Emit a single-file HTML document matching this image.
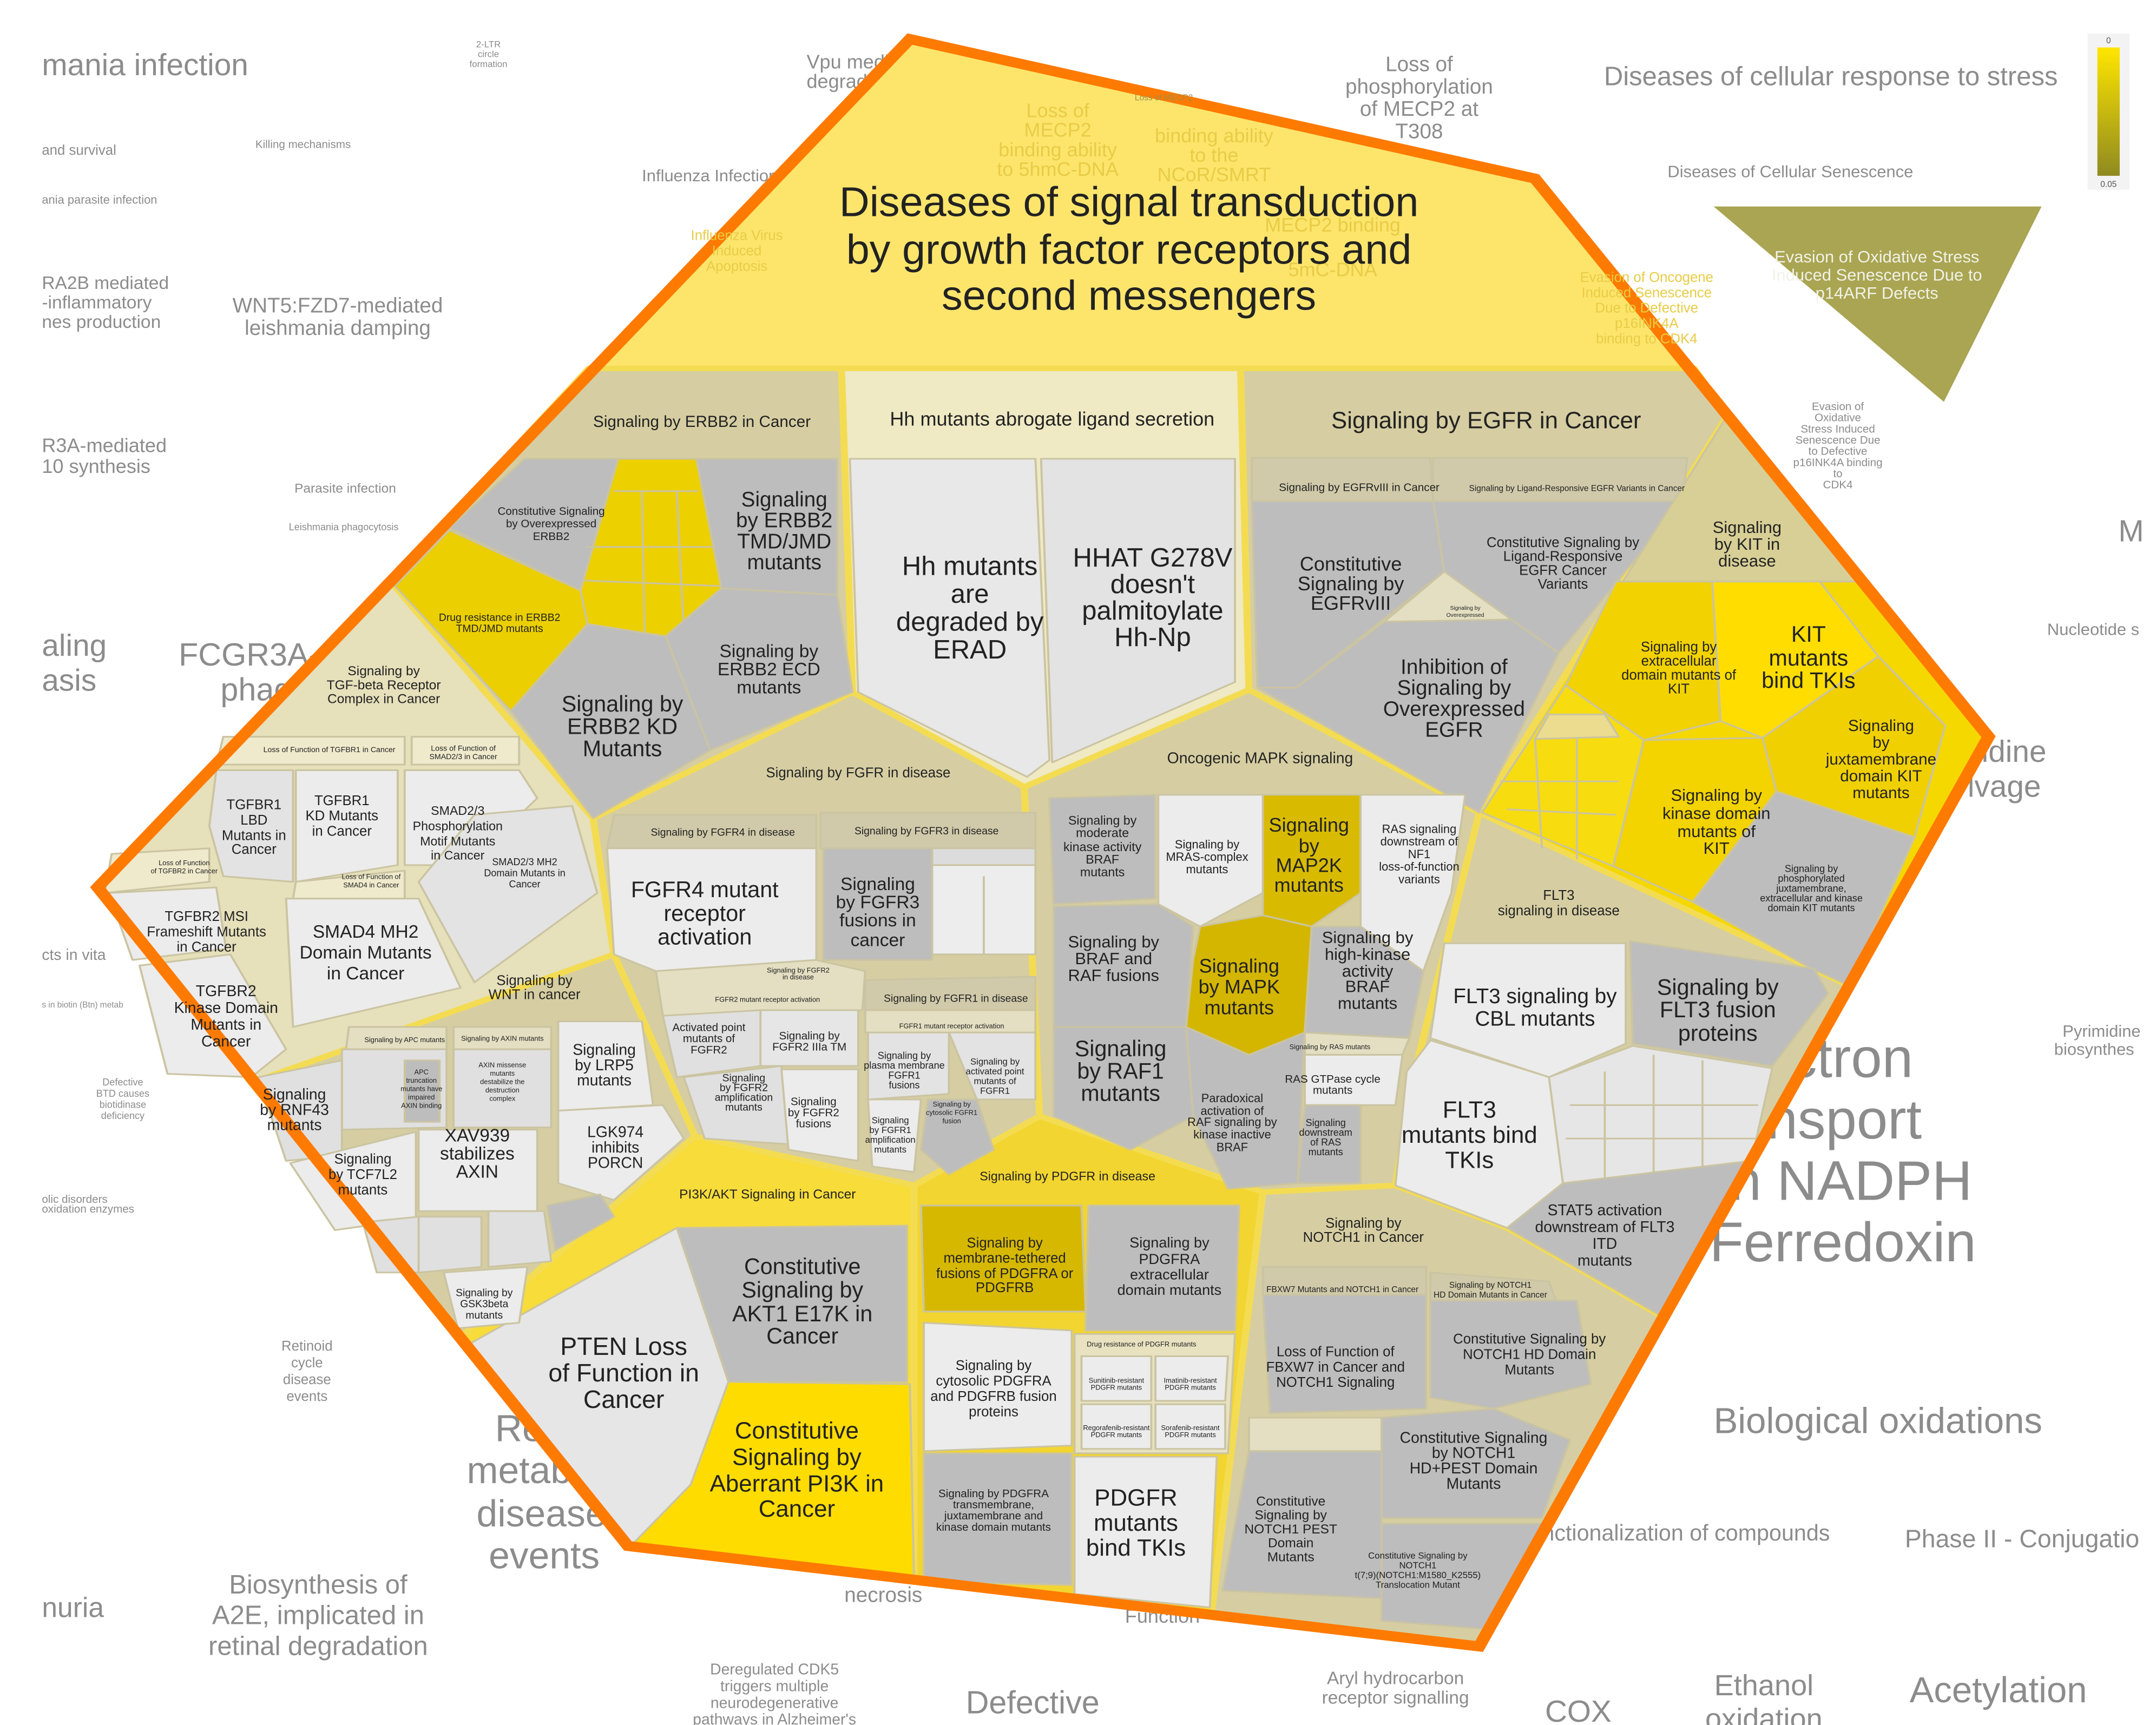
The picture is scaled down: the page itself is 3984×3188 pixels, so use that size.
<!DOCTYPE html>
<html><head><meta charset="utf-8"><style>
html,body{margin:0;padding:0;background:#fff;}
svg{display:block;}
text{font-family:"Liberation Sans",Arial,sans-serif;}
.bg{fill:#8c8c8c;}
.c{fill:#222;text-anchor:middle;}
.f{fill:#e8cc45;text-anchor:middle;}
</style></head><body>
<svg width="3984" height="3188" viewBox="0 0 1545 1236.3" xmlns="http://www.w3.org/2000/svg">
<rect width="1545" height="1237" fill="#fff"/>
<!-- background labels -->
<g class="bg">
<text x="30" y="54" font-size="22">mania infection</text>
<text x="30" y="111" font-size="10">and survival</text>
<text x="183" y="106" font-size="8">Killing mechanisms</text>
<text x="30" y="146" font-size="8.5">ania parasite infection</text>
<text x="30" y="207" font-size="13">RA2B mediated</text>
<text x="30" y="221" font-size="13">-inflammatory</text>
<text x="30" y="235" font-size="13">nes production</text>
<text x="242" y="224" font-size="15" text-anchor="middle">WNT5:FZD7-mediated</text>
<text x="242" y="240" font-size="15" text-anchor="middle">leishmania damping</text>
<text x="30" y="324" font-size="14">R3A-mediated</text>
<text x="30" y="339" font-size="14">10 synthesis</text>
<text x="211" y="353" font-size="9.5">Parasite infection</text>
<text x="207" y="380" font-size="7">Leishmania phagocytosis</text>
<text x="460" y="130" font-size="12">Influenza Infection</text>
<text x="578" y="49" font-size="14">Vpu mediated</text>
<text x="578" y="63" font-size="14">degradation of</text>
<text x="30" y="470" font-size="22">aling</text>
<text x="30" y="495" font-size="22">asis</text>
<text x="128" y="477" font-size="23">FCGR3A-mediated</text>
<text x="158" y="502" font-size="23">phagocytosis</text>
<text x="30" y="688" font-size="11">cts in vita</text>
<text x="30" y="722" font-size="6">s in biotin (Btn) metab</text>
<text x="30" y="862" font-size="8">olic disorders</text>
<text x="30" y="869" font-size="8">oxidation enzymes</text>
<text x="220" y="968" font-size="10" text-anchor="middle">Retinoid</text>
<text x="220" y="980" font-size="10" text-anchor="middle">cycle</text>
<text x="220" y="992" font-size="10" text-anchor="middle">disease</text>
<text x="220" y="1004" font-size="10" text-anchor="middle">events</text>
<text x="372" y="1033" font-size="27" text-anchor="middle">Re</text>
<text x="372" y="1063" font-size="27" text-anchor="middle">metab</text>
<text x="388" y="1094" font-size="27" text-anchor="middle">disease</text>
<text x="390" y="1124" font-size="27" text-anchor="middle">events</text>
<text x="30" y="1159" font-size="20">nuria</text>
<text x="228" y="1142" font-size="19" text-anchor="middle">Biosynthesis of</text>
<text x="228" y="1164" font-size="19" text-anchor="middle">A2E, implicated in</text>
<text x="228" y="1186" font-size="19" text-anchor="middle">retinal degradation</text>
<text x="633" y="1148" font-size="15" text-anchor="middle">necrosis</text>
<text x="833" y="1163" font-size="14" text-anchor="middle">Function</text>
<text x="555" y="1200" font-size="11" text-anchor="middle">Deregulated CDK5</text>
<text x="555" y="1212" font-size="11" text-anchor="middle">triggers multiple</text>
<text x="555" y="1224" font-size="11" text-anchor="middle">neurodegenerative</text>
<text x="555" y="1236" font-size="11" text-anchor="middle">pathways in Alzheimer's</text>
<text x="740" y="1228" font-size="23" text-anchor="middle">Defective</text>
<text x="1000" y="1207" font-size="13" text-anchor="middle">Aryl hydrocarbon</text>
<text x="1000" y="1221" font-size="13" text-anchor="middle">receptor signalling</text>
<text x="1131" y="1234" font-size="22" text-anchor="middle">COX</text>
<text x="1264" y="1215" font-size="21" text-anchor="middle">Ethanol</text>
<text x="1264" y="1239" font-size="21" text-anchor="middle">oxidation</text>
<text x="1432" y="1220" font-size="26" text-anchor="middle">Acetylation</text>
<text x="1365" y="1109" font-size="18">Phase II - Conjugatio</text>
<text x="1105" y="1104" font-size="16">nctionalization of compounds</text>
<text x="1228" y="1027" font-size="26">Biological oxidations</text>
<text x="1282" y="772" font-size="40">ctron</text>
<text x="1266" y="816" font-size="40">nsport</text>
<text x="1240" y="860" font-size="40">n NADPH</text>
<text x="1225" y="904" font-size="40">Ferredoxin</text>
<text x="1478" y="743" font-size="12">Pyrimidine</text>
<text x="1472" y="756" font-size="12">biosynthes</text>
<text x="1420" y="546" font-size="22">idine</text>
<text x="1410" y="571" font-size="22">lvage</text>
<text x="1467" y="455" font-size="12">Nucleotide s</text>
<text x="1518" y="388" font-size="22">M</text>
<text x="1312" y="61" font-size="19" text-anchor="middle">Diseases of cellular response to stress</text>
<text x="1283" y="127" font-size="12" text-anchor="middle">Diseases of Cellular Senescence</text>
<text x="1017" y="51" font-size="15" text-anchor="middle">Loss of</text>
<text x="1017" y="67" font-size="15" text-anchor="middle">phosphorylation</text>
<text x="1017" y="83" font-size="15" text-anchor="middle">of MECP2 at</text>
<text x="1017" y="99" font-size="15" text-anchor="middle">T308</text>
<text x="1317" y="294" font-size="8" text-anchor="middle">Evasion of</text>
<text x="1317" y="302" font-size="8" text-anchor="middle">Oxidative</text>
<text x="1317" y="310" font-size="8" text-anchor="middle">Stress Induced</text>
<text x="1317" y="318" font-size="8" text-anchor="middle">Senescence Due</text>
<text x="1317" y="326" font-size="8" text-anchor="middle">to Defective</text>
<text x="1317" y="334" font-size="8" text-anchor="middle">p16INK4A binding</text>
<text x="1317" y="342" font-size="8" text-anchor="middle">to</text>
<text x="1317" y="350" font-size="8" text-anchor="middle">CDK4</text>
<text x="88" y="778" font-size="7" text-anchor="middle">Defective</text>
<text x="88" y="786" font-size="7" text-anchor="middle">BTD causes</text>
<text x="88" y="794" font-size="7" text-anchor="middle">biotidinase</text>
<text x="88" y="802" font-size="7" text-anchor="middle">deficiency</text>
<text x="350" y="34" font-size="6.5" text-anchor="middle">2-LTR</text>
<text x="350" y="41" font-size="6.5" text-anchor="middle">circle</text>
<text x="350" y="48" font-size="6.5" text-anchor="middle">formation</text>
</g>
<polygon points="1228,148 1463,148 1393,288" fill="#a9a552"/>
<text x="1345" y="188" font-size="12" fill="#f2f2e8" text-anchor="middle">Evasion of Oxidative Stress</text>
<text x="1345" y="201" font-size="12" fill="#f2f2e8" text-anchor="middle">Induced Senescence Due to</text>
<text x="1345" y="214" font-size="12" fill="#f2f2e8" text-anchor="middle">p14ARF Defects</text>
<defs><linearGradient id="lg" x1="0" y1="0" x2="0" y2="1"><stop offset="0" stop-color="#ffe600"/><stop offset="1" stop-color="#8f8a20"/></linearGradient></defs>
<rect x="1496" y="24" width="30" height="112" fill="#f3f3f3"/>
<rect x="1503" y="34" width="16" height="92" fill="url(#lg)"/>
<text x="1511" y="31" font-size="6" fill="#555" text-anchor="middle">0</text>
<text x="1511" y="134" font-size="6" fill="#555" text-anchor="middle">0.05</text>

<g transform="scale(1,0.8)">
<polygon points="652,35 1100,160 1425,660 1060,1475 450,1385 70,795" fill="#d6cea2"/>
<polygon points="652,35 1100,160 1214,330 422,330" fill="#fde56c"/>
<g stroke="#f4dc52" stroke-width="5" stroke-linejoin="round">
<polygon points="422,330 603,330 611,620 425,733 280,521" fill="#d6cea2"/>
<polygon points="280,521 425,733 440,855 180,970 70,795" fill="#e6e0bb"/>
<polygon points="425,733 611,620 734,705 745,1000 655,1062 498,1018 440,855" fill="#d6cea2"/>
<polygon points="603,330 889,330 895,618 734,705 611,620" fill="#efe9c4"/>
<polygon points="889,330 1214,330 1238,372 1060,728 895,618" fill="#d6cea2"/>
<polygon points="1238,372 1425,660 1325,883 1060,728" fill="#f5d800"/>
<polygon points="734,705 895,618 1060,728 1012,970 1000,1062 905,1068 745,1000" fill="#d6cea2"/>
<polygon points="440,855 498,1018 330,1198 180,970" fill="#d6cea2"/>
<polygon points="498,1018 655,1062 655,1415 450,1385 330,1198" fill="#f7dc3a"/>
<polygon points="655,1062 745,1000 905,1068 868,1447 655,1415" fill="#f2d530"/>
<polygon points="1060,728 1325,883 1192,1180 1080,1100 1000,1062 1012,970" fill="#d6cea2"/>
<polygon points="905,1068 1000,1062 1080,1100 1192,1180 1060,1475 868,1447" fill="#d6cea2"/>
</g>
<g stroke="#cbc4a2" stroke-width="1.5" stroke-linejoin="round">
<polygon points="322,473 376,411 443,411 416,529" fill="#bdbdbd"/>
<polygon points="283,525 322,475 416,529 421,559 366,637" fill="#ebcf00"/>
<polygon points="443,411 499,411 517,527 477,570 421,559 416,529" fill="#ecd000"/>
<polyline points="440,440 500,440" fill="none"/><polyline points="420,490 515,490" fill="none"/><polyline points="460,440 462,570" fill="none"/><polyline points="485,440 490,565" fill="none"/><polyline points="418,520 516,525" fill="none"/>
<polygon points="499,411 600,411 600,533 517,527" fill="#bdbdbd"/>
<polygon points="366,637 421,559 477,570 509,672 425,733" fill="#bdbdbd"/>
<polygon points="477,570 517,527 600,533 611,620 509,672" fill="#bdbdbd"/>
<polygon points="609,411 742,411 752,681 736,696 615,620" fill="#e8e8e8"/>
<polygon points="746,411 885,411 885,611 754,683" fill="#e3e3e3"/>
<polygon points="897,410 1025,410 1027,449 897,449" fill="#d0caaa"/>
<polygon points="1027,410 1209,410 1206,449 1027,449" fill="#d0caaa"/>
<polygon points="897,449 1027,449 1035,512 929,616 901,616" fill="#bdbdbd"/>
<polygon points="1035,512 1083,555 992,557" fill="#e4dfc2"/>
<polygon points="1027,449 1206,449 1117,585 1083,555 1035,512" fill="#bdbdbd"/>
<polygon points="901,616 929,616 992,557 1083,555 1117,585 1060,728" fill="#bdbdbd"/>
<polygon points="1238,372 1335,521 1163,521" fill="#d8cf96"/>
<polygon points="1158,521 1227,521 1233,646 1178,663 1122,614" fill="#f2d200"/>
<polygon points="1227,521 1304,521 1346,588 1263,661 1233,646" fill="#ffdd00"/>
<polygon points="1346,588 1394,650 1372,750 1273,709 1263,661" fill="#f0d000"/>
<polygon points="1178,663 1263,661 1273,709 1213,808 1156,776" fill="#f3d300"/>
<polygon points="1273,709 1372,750 1325,883 1297,867 1213,808" fill="#bdbdbd"/>
<polygon points="1122,614 1178,663 1156,776 1062,728" fill="#f7dc10"/>
<polygon points="1110,640 1150,640 1160,660 1100,662" fill="#ecdc90"/>
<polyline points="1075,700 1160,700" fill="none"/><polyline points="1100,662 1105,760" fill="none"/><polyline points="1130,662 1130,770" fill="none"/><polyline points="1080,725 1158,730" fill="none"/>
<polygon points="752,715 828,712 828,805 755,810" fill="#bdbdbd"/>
<polygon points="830,712 905,712 905,800 860,830 830,810" fill="#ececec"/>
<polygon points="905,712 975,712 975,800 940,830 905,820" fill="#d8bb00"/>
<polygon points="975,712 1050,712 1040,800 1020,870 975,830" fill="#ececec"/>
<polygon points="755,812 830,810 855,830 850,920 755,920" fill="#bdbdbd"/>
<polygon points="860,830 905,820 940,830 935,925 895,945 850,920 855,860" fill="#d4b600"/>
<polygon points="940,830 975,830 1020,870 1010,930 935,925" fill="#bdbdbd"/>
<polygon points="755,920 850,920 855,1000 810,1030 755,1000" fill="#bdbdbd"/>
<polygon points="850,920 895,945 935,925 930,1060 880,1065 855,1000" fill="#bdbdbd"/>
<polygon points="935,925 1010,930 1005,945 935,945" fill="#e4dfc2"/>
<polygon points="935,945 1005,945 1000,990 935,990" fill="#ececec"/>
<polygon points="935,990 975,990 975,1060 930,1060" fill="#bdbdbd"/>
<polygon points="440,730 585,730 585,760 435,760" fill="#d0caaa"/>
<polygon points="435,760 585,760 585,860 470,870 440,855" fill="#ececec"/>
<polygon points="588,728 742,728 742,760 588,760" fill="#d0caaa"/>
<polygon points="590,760 668,760 668,860 590,860" fill="#bdbdbd"/>
<polygon points="668,760 742,760 742,855 668,855" fill="#ededed"/>
<polygon points="668,760 742,760 742,775 668,775" fill="#dcdcdc"/>
<polyline points="705,785 705,855" fill="none"/>
<polygon points="470,870 585,860 620,870 618,905 475,910" fill="#e4dfc2"/>
<polygon points="475,910 545,905 545,955 485,965" fill="#e0e0e0"/>
<polygon points="545,905 615,905 615,955 545,955" fill="#e6e6e6"/>
<polygon points="490,965 560,955 565,1025 505,1020" fill="#e0e0e0"/>
<polygon points="560,958 615,958 615,1040 565,1030" fill="#ececec"/>
<polygon points="620,878 742,875 742,905 620,905" fill="#d0caaa"/>
<polygon points="620,905 742,905 742,925 620,925" fill="#e4dfc2"/>
<polygon points="622,925 680,925 680,980 622,985" fill="#e3e3e3"/>
<polygon points="680,925 742,925 742,985 700,985" fill="#e3e3e3"/>
<polygon points="622,985 660,985 655,1050 625,1045" fill="#ececec"/>
<polygon points="665,985 700,985 712,1030 680,1052 660,1030" fill="#bdbdbd"/>
<polygon points="660,1080 775,1080 778,1175 662,1175" fill="#d6b800"/>
<polygon points="780,1080 888,1080 885,1192 778,1192" fill="#bdbdbd"/>
<polygon points="662,1185 768,1192 768,1295 662,1300" fill="#ececec"/>
<polygon points="770,1195 885,1195 880,1302 770,1302" fill="#e8e2c0"/>
<polygon points="775,1215 825,1215 825,1255 775,1255" fill="#ececec"/>
<polygon points="828,1215 880,1215 878,1255 828,1255" fill="#ececec"/>
<polygon points="775,1258 825,1258 825,1298 775,1298" fill="#ececec"/>
<polygon points="828,1258 878,1258 878,1298 828,1298" fill="#ececec"/>
<polygon points="662,1302 768,1302 768,1420 662,1417" fill="#bdbdbd"/>
<polygon points="770,1305 872,1305 867,1440 770,1428" fill="#ececec"/>
<polygon points="485,1100 650,1098 650,1238 522,1238" fill="#bdbdbd"/>
<polygon points="335,1205 485,1100 522,1238 495,1330 452,1385" fill="#e6e6e6"/>
<polygon points="522,1238 652,1240 655,1415 452,1385 495,1330" fill="#ffdc00"/>
<polygon points="905,1135 1022,1135 1022,1160 905,1160" fill="#d0caaa"/>
<polygon points="905,1160 1022,1160 1022,1262 910,1266" fill="#bdbdbd"/>
<polygon points="1025,1140 1110,1148 1115,1165 1025,1165" fill="#d0caaa"/>
<polygon points="1025,1165 1130,1165 1140,1240 1070,1262 1025,1252" fill="#bdbdbd"/>
<polygon points="895,1270 990,1270 990,1300 895,1300" fill="#e4dfc2"/>
<polygon points="895,1300 990,1300 990,1432 876,1425" fill="#bdbdbd"/>
<polygon points="990,1270 1070,1262 1125,1290 1105,1360 990,1360" fill="#bdbdbd"/>
<polygon points="990,1365 1105,1365 1070,1460 990,1452" fill="#bdbdbd"/>
<polygon points="1035,845 1165,845 1165,935 1110,965 1025,930" fill="#ececec"/>
<polygon points="1168,843 1300,868 1310,890 1270,955 1170,935" fill="#bdbdbd"/>
<polygon points="1025,932 1110,965 1120,1060 1080,1100 1000,1062 1008,960" fill="#ececec"/>
<polygon points="1110,965 1170,937 1270,957 1255,1040 1120,1060" fill="#e6e6e6"/>
<polyline points="1125,990 1260,990" fill="none"/><polyline points="1122,1020 1258,1020" fill="none"/><polyline points="1150,960 1150,1055" fill="none"/><polyline points="1185,945 1185,1050" fill="none"/><polyline points="1220,950 1220,1045" fill="none"/>
<polygon points="1120,1060 1255,1040 1192,1180 1080,1100" fill="#bdbdbd"/>
<polygon points="250,920 320,920 320,940 248,940" fill="#e4dfc2"/>
<polygon points="245,940 320,940 320,1010 245,1012" fill="#e0e0e0"/>
<polygon points="290,950 315,950 315,1005 290,1005" fill="#bdbdbd"/>
<polygon points="325,920 395,920 395,940 325,940" fill="#e4dfc2"/>
<polygon points="325,940 395,940 395,1010 325,1010" fill="#e0e0e0"/>
<polygon points="400,915 460,915 468,990 400,995" fill="#ececec"/>
<polygon points="185,965 245,950 245,1035 205,1040" fill="#e0e0e0"/>
<polygon points="300,1012 385,1012 385,1085 300,1085" fill="#ececec"/>
<polygon points="400,995 475,990 490,1020 440,1075 400,1060" fill="#ececec"/>
<polygon points="208,1042 298,1014 298,1092 240,1102" fill="#ececec"/>
<polygon points="260,1095 300,1090 300,1140 270,1140" fill="#e0e0e0"/>
<polygon points="300,1090 345,1090 345,1135 300,1140" fill="#e0e0e0"/>
<polygon points="350,1085 390,1085 395,1130 350,1135" fill="#e0e0e0"/>
<polygon points="392,1080 430,1070 440,1090 398,1120" fill="#bdbdbd"/>
<polygon points="318,1140 378,1135 372,1185 328,1190" fill="#ececec"/>
<polygon points="160,660 290,660 290,685 155,685" fill="#efeacc"/>
<polygon points="295,660 372,660 372,685 295,685" fill="#efeacc"/>
<polygon points="155,690 210,690 210,790 160,785 150,740" fill="#e3e3e3"/>
<polygon points="212,690 285,690 285,775 212,790" fill="#ececec"/>
<polygon points="290,690 372,690 385,715 335,775 290,775" fill="#ececec"/>
<polygon points="80,765 150,760 150,790 75,800" fill="#efeacc"/>
<polygon points="78,800 155,795 162,850 95,860" fill="#ececec"/>
<polygon points="100,865 165,855 205,940 180,965 120,962" fill="#ececec"/>
<polygon points="212,790 290,780 290,805 210,805" fill="#efeacc"/>
<polygon points="205,805 300,805 330,885 210,920" fill="#ececec"/>
<polygon points="300,790 340,730 410,722 428,800 340,880" fill="#e3e3e3"/>
</g>
<polygon points="652,35 1100,160 1425,660 1060,1475 450,1385 70,795" fill="none" stroke="#ff7a00" stroke-width="9" stroke-linejoin="miter"/>
</g>

<g class="f">
<text x="758" y="84" font-size="14">Loss of</text><text x="758" y="98" font-size="14">MECP2</text><text x="758" y="112" font-size="14">binding ability</text><text x="758" y="126" font-size="14">to 5hmC-DNA</text>
<text x="870" y="102" font-size="14">binding ability</text><text x="870" y="116" font-size="14">to the</text><text x="870" y="130" font-size="14">NCoR/SMRT</text>
<text x="955" y="166" font-size="14">MECP2 binding</text><text x="955" y="198" font-size="14">5mC-DNA</text>
<text x="1180" y="202" font-size="10">Evasion of Oncogene</text><text x="1180" y="213" font-size="10">Induced Senescence</text><text x="1180" y="224" font-size="10">Due to Defective</text><text x="1180" y="235" font-size="10">p16INK4A</text><text x="1180" y="246" font-size="10">binding to CDK4</text>
<text x="528" y="172" font-size="10">Influenza Virus</text><text x="528" y="183" font-size="10">Induced</text><text x="528" y="194" font-size="10">Apoptosis</text>
</g>
<g fill="#9a8f4a" font-size="6" text-anchor="middle">
<text x="834" y="72">Loss of MECP2</text>
</g>

<g class="c" font-size="30">
<text x="809" y="155">Diseases of signal transduction</text>
<text x="809" y="189">by growth factor receptors and</text>
<text x="809" y="222">second messengers</text>
</g>

<g class="c">
<text x="503" y="306" font-size="11.5">Signaling by ERBB2 in Cancer</text>
<g font-size="8"><text x="395" y="369">Constitutive Signaling</text><text x="395" y="378">by Overexpressed</text><text x="395" y="387">ERBB2</text></g>
<g font-size="7.5"><text x="358" y="445">Drug resistance in ERBB2</text><text x="358" y="453">TMD/JMD mutants</text></g>
<g font-size="15"><text x="562" y="363">Signaling</text><text x="562" y="378">by ERBB2</text><text x="562" y="393">TMD/JMD</text><text x="562" y="408">mutants</text></g>
<g font-size="13"><text x="551" y="471">Signaling by</text><text x="551" y="484">ERBB2 ECD</text><text x="551" y="497">mutants</text></g>
<g font-size="16"><text x="446" y="510">Signaling by</text><text x="446" y="526">ERBB2 KD</text><text x="446" y="542">Mutants</text></g>
<text x="754" y="305" font-size="14">Hh mutants abrogate ligand secretion</text>
<g font-size="19"><text x="695" y="412">Hh mutants</text><text x="695" y="432">are</text><text x="695" y="452">degraded by</text><text x="695" y="472">ERAD</text></g>
<g font-size="19"><text x="826" y="406">HHAT G278V</text><text x="826" y="425">doesn't</text><text x="826" y="444">palmitoylate</text><text x="826" y="463">Hh-Np</text></g>
<text x="1065" y="307" font-size="17">Signaling by EGFR in Cancer</text>
<text x="974" y="352" font-size="8">Signaling by EGFRvIII in Cancer</text>
<text x="1130" y="352" font-size="6">Signaling by Ligand-Responsive EGFR Variants in Cancer</text>
<g font-size="14"><text x="968" y="409">Constitutive</text><text x="968" y="423">Signaling by</text><text x="968" y="437">EGFRvIII</text></g>
<g font-size="10"><text x="1120" y="392">Constitutive Signaling by</text><text x="1120" y="402">Ligand-Responsive</text><text x="1120" y="412">EGFR Cancer</text><text x="1120" y="422">Variants</text></g>
<g font-size="15"><text x="1042" y="483">Inhibition of</text><text x="1042" y="498">Signaling by</text><text x="1042" y="513">Overexpressed</text><text x="1042" y="528">EGFR</text></g>
<g font-size="4"><text x="1050" y="437">Signaling by</text><text x="1050" y="442">Overexpressed</text></g>
<g font-size="12"><text x="1252" y="382">Signaling</text><text x="1252" y="394">by KIT in</text><text x="1252" y="406">disease</text></g>
<g font-size="10"><text x="1203" y="467">Signaling by</text><text x="1203" y="477">extracellular</text><text x="1203" y="487">domain mutants of</text><text x="1203" y="497">KIT</text></g>
<g font-size="16"><text x="1296" y="460">KIT</text><text x="1296" y="477">mutants</text><text x="1296" y="493">bind TKIs</text></g>
<g font-size="11.5"><text x="1348" y="524">Signaling</text><text x="1348" y="536">by</text><text x="1348" y="548">juxtamembrane</text><text x="1348" y="560">domain KIT</text><text x="1348" y="572">mutants</text></g>
<g font-size="12"><text x="1230" y="574">Signaling by</text><text x="1230" y="587">kinase domain</text><text x="1230" y="600">mutants of</text><text x="1230" y="612">KIT</text></g>
<g font-size="7"><text x="1298" y="625">Signaling by</text><text x="1298" y="632">phosphorylated</text><text x="1298" y="639">juxtamembrane,</text><text x="1298" y="646">extracellular and kinase</text><text x="1298" y="653">domain KIT mutants</text></g>
<text x="903" y="547" font-size="11">Oncogenic MAPK signaling</text>
<g font-size="9"><text x="790" y="591">Signaling by</text><text x="790" y="600">moderate</text><text x="790" y="610">kinase activity</text><text x="790" y="619">BRAF</text><text x="790" y="628">mutants</text></g>
<g font-size="8.5"><text x="865" y="608">Signaling by</text><text x="865" y="617">MRAS-complex</text><text x="865" y="626">mutants</text></g>
<g font-size="14"><text x="938" y="596">Signaling</text><text x="938" y="611">by</text><text x="938" y="625">MAP2K</text><text x="938" y="639">mutants</text></g>
<g font-size="8.5"><text x="1017" y="597">RAS signaling</text><text x="1017" y="606">downstream of</text><text x="1017" y="615">NF1</text><text x="1017" y="624">loss-of-function</text><text x="1017" y="633">variants</text></g>
<g font-size="12"><text x="798" y="679">Signaling by</text><text x="798" y="691">BRAF and</text><text x="798" y="703">RAF fusions</text></g>
<g font-size="14"><text x="888" y="697">Signaling</text><text x="888" y="712">by MAPK</text><text x="888" y="727">mutants</text></g>
<g font-size="12"><text x="980" y="676">Signaling by</text><text x="980" y="688">high-kinase</text><text x="980" y="700">activity</text><text x="980" y="711">BRAF</text><text x="980" y="723">mutants</text></g>
<g font-size="16"><text x="803" y="757">Signaling</text><text x="803" y="773">by RAF1</text><text x="803" y="789">mutants</text></g>
<g font-size="8.5"><text x="883" y="790">Paradoxical</text><text x="883" y="799">activation of</text><text x="883" y="807">RAF signaling by</text><text x="883" y="816">kinase inactive</text><text x="883" y="825">BRAF</text></g>
<text x="953" y="752" font-size="5">Signaling by RAS mutants</text>
<g font-size="8"><text x="955" y="776">RAS GTPase cycle</text><text x="955" y="784">mutants</text></g>
<g font-size="7"><text x="950" y="807">Signaling</text><text x="950" y="814">downstream</text><text x="950" y="821">of RAS</text><text x="950" y="828">mutants</text></g>
<text x="615" y="557" font-size="10">Signaling by FGFR in disease</text>
<text x="518" y="599" font-size="7.5">Signaling by FGFR4 in disease</text>
<text x="664" y="598" font-size="7.5">Signaling by FGFR3 in disease</text>
<g font-size="16"><text x="505" y="643">FGFR4 mutant</text><text x="505" y="660">receptor</text><text x="505" y="677">activation</text></g>
<g font-size="13"><text x="629" y="638">Signaling</text><text x="629" y="651">by FGFR3</text><text x="629" y="664">fusions in</text><text x="629" y="678">cancer</text></g>
<g font-size="8"><text x="508" y="739">Activated point</text><text x="508" y="747">mutants of</text><text x="508" y="755">FGFR2</text></g>
<g font-size="8"><text x="580" y="745">Signaling by</text><text x="580" y="753">FGFR2 IIIa TM</text></g>
<g font-size="7.5"><text x="533" y="775">Signaling</text><text x="533" y="782">by FGFR2</text><text x="533" y="789">amplification</text><text x="533" y="796">mutants</text></g>
<g font-size="8"><text x="583" y="792">Signaling</text><text x="583" y="800">by FGFR2</text><text x="583" y="808">fusions</text></g>
<text x="685" y="718" font-size="7.5">Signaling by FGFR1 in disease</text>
<g font-size="7"><text x="648" y="759">Signaling by</text><text x="648" y="766">plasma membrane</text><text x="648" y="773">FGFR1</text><text x="648" y="780">fusions</text></g>
<g font-size="6.5"><text x="713" y="763">Signaling by</text><text x="713" y="770">activated point</text><text x="713" y="777">mutants of</text><text x="713" y="784">FGFR1</text></g>
<g font-size="6.5"><text x="638" y="805">Signaling</text><text x="638" y="812">by FGFR1</text><text x="638" y="819">amplification</text><text x="638" y="826">mutants</text></g>
<g font-size="5"><text x="572" y="697">Signaling by FGFR2</text><text x="572" y="702">in disease</text><text x="550" y="718">FGFR2 mutant receptor activation</text><text x="682" y="737">FGFR1 mutant receptor activation</text><text x="682" y="793">Signaling by</text><text x="682" y="799">cytosolic FGFR1</text><text x="682" y="805">fusion</text></g>
<text x="765" y="846" font-size="9">Signaling by PDGFR in disease</text>
<g font-size="10"><text x="720" y="894">Signaling by</text><text x="720" y="905">membrane-tethered</text><text x="720" y="916">fusions of PDGFRA or</text><text x="720" y="926">PDGFRB</text></g>
<g font-size="10.5"><text x="838" y="894">Signaling by</text><text x="838" y="906">PDGFRA</text><text x="838" y="917">extracellular</text><text x="838" y="928">domain mutants</text></g>
<g font-size="10"><text x="712" y="982">Signaling by</text><text x="712" y="993">cytosolic PDGFRA</text><text x="712" y="1004">and PDGFRB fusion</text><text x="712" y="1015">proteins</text></g>
<g font-size="5"><text x="818" y="965">Drug resistance of PDGFR mutants</text><text x="800" y="991">Sunitinib-resistant</text><text x="800" y="996">PDGFR mutants</text><text x="853" y="991">Imatinib-resistant</text><text x="853" y="996">PDGFR mutants</text><text x="800" y="1025">Regorafenib-resistant</text><text x="800" y="1030">PDGFR mutants</text><text x="853" y="1025">Sorafenib-resistant</text><text x="853" y="1030">PDGFR mutants</text></g>
<g font-size="17"><text x="814" y="1079">PDGFR</text><text x="814" y="1097">mutants</text><text x="814" y="1115">bind TKIs</text></g>
<g font-size="8"><text x="712" y="1073">Signaling by PDGFRA</text><text x="712" y="1081">transmembrane,</text><text x="712" y="1089">juxtamembrane and</text><text x="712" y="1097">kinase domain mutants</text></g>
<text x="550" y="859" font-size="9.5">PI3K/AKT Signaling in Cancer</text>
<g font-size="16"><text x="575" y="913">Constitutive</text><text x="575" y="930">Signaling by</text><text x="575" y="947">AKT1 E17K in</text><text x="575" y="963">Cancer</text></g>
<g font-size="18"><text x="447" y="971">PTEN Loss</text><text x="447" y="990">of Function in</text><text x="447" y="1009">Cancer</text></g>
<g font-size="17"><text x="571" y="1031">Constitutive</text><text x="571" y="1050">Signaling by</text><text x="571" y="1069">Aberrant PI3K in</text><text x="571" y="1087">Cancer</text></g>
<g font-size="10"><text x="977" y="880">Signaling by</text><text x="977" y="890">NOTCH1 in Cancer</text></g>
<text x="962" y="926" font-size="6">FBXW7 Mutants and NOTCH1 in Cancer</text>
<g font-size="6"><text x="1068" y="923">Signaling by NOTCH1</text><text x="1068" y="930">HD Domain Mutants in Cancer</text></g>
<g font-size="10"><text x="957" y="972">Loss of Function of</text><text x="957" y="983">FBXW7 in Cancer and</text><text x="957" y="994">NOTCH1 Signaling</text></g>
<g font-size="10"><text x="1096" y="963">Constitutive Signaling by</text><text x="1096" y="974">NOTCH1 HD Domain</text><text x="1096" y="985">Mutants</text></g>
<g font-size="11"><text x="1056" y="1034">Constitutive Signaling</text><text x="1056" y="1045">by NOTCH1</text><text x="1056" y="1056">HD+PEST Domain</text><text x="1056" y="1067">Mutants</text></g>
<g font-size="9.5"><text x="925" y="1079">Constitutive</text><text x="925" y="1089">Signaling by</text><text x="925" y="1099">NOTCH1 PEST</text><text x="925" y="1109">Domain</text><text x="925" y="1119">Mutants</text></g>
<g font-size="6.5"><text x="1016" y="1117">Constitutive Signaling by</text><text x="1016" y="1124">NOTCH1</text><text x="1016" y="1131">t(7;9)(NOTCH1:M1580_K2555)</text><text x="1016" y="1138">Translocation Mutant</text></g>
<g font-size="10"><text x="1117" y="645">FLT3</text><text x="1117" y="656">signaling in disease</text></g>
<g font-size="15"><text x="1100" y="719">FLT3 signaling by</text><text x="1100" y="735">CBL mutants</text></g>
<g font-size="16"><text x="1231" y="713">Signaling by</text><text x="1231" y="729">FLT3 fusion</text><text x="1231" y="746">proteins</text></g>
<g font-size="17"><text x="1053" y="801">FLT3</text><text x="1053" y="819">mutants bind</text><text x="1053" y="837">TKIs</text></g>
<g font-size="11"><text x="1150" y="871">STAT5 activation</text><text x="1150" y="883">downstream of FLT3</text><text x="1150" y="895">ITD</text><text x="1150" y="907">mutants</text></g>
<g font-size="10"><text x="383" y="706">Signaling by</text><text x="383" y="716">WNT in cancer</text></g>
<text x="290" y="747" font-size="5">Signaling by APC mutants</text>
<text x="360" y="746" font-size="5">Signaling by AXIN mutants</text>
<g font-size="11"><text x="433" y="756">Signaling</text><text x="433" y="767">by LRP5</text><text x="433" y="778">mutants</text></g>
<g font-size="11"><text x="211" y="788">Signaling</text><text x="211" y="799">by RNF43</text><text x="211" y="810">mutants</text></g>
<g font-size="13"><text x="342" y="818">XAV939</text><text x="342" y="831">stabilizes</text><text x="342" y="844">AXIN</text></g>
<g font-size="11"><text x="441" y="815">LGK974</text><text x="441" y="826">inhibits</text><text x="441" y="837">PORCN</text></g>
<g font-size="10"><text x="260" y="834">Signaling</text><text x="260" y="845">by TCF7L2</text><text x="260" y="856">mutants</text></g>
<g font-size="7.5"><text x="347" y="929">Signaling by</text><text x="347" y="937">GSK3beta</text><text x="347" y="945">mutants</text></g>
<g font-size="5"><text x="302" y="770">APC</text><text x="302" y="776">truncation</text><text x="302" y="782">mutants have</text><text x="302" y="788">impaired</text><text x="302" y="794">AXIN binding</text><text x="360" y="765">AXIN missense</text><text x="360" y="771">mutants</text><text x="360" y="777">destabilize the</text><text x="360" y="783">destruction</text><text x="360" y="789">complex</text></g>
<g font-size="9.5"><text x="275" y="484">Signaling by</text><text x="275" y="494">TGF-beta Receptor</text><text x="275" y="504">Complex in Cancer</text></g>
<text x="236" y="539" font-size="5.5">Loss of Function of TGFBR1 in Cancer</text>
<g font-size="5.5"><text x="332" y="538">Loss of Function of</text><text x="332" y="544">SMAD2/3 in Cancer</text></g>
<g font-size="10"><text x="182" y="580">TGFBR1</text><text x="182" y="591">LBD</text><text x="182" y="602">Mutants in</text><text x="182" y="612">Cancer</text></g>
<g font-size="10"><text x="245" y="577">TGFBR1</text><text x="245" y="588">KD Mutants</text><text x="245" y="599">in Cancer</text></g>
<g font-size="9"><text x="328" y="584">SMAD2/3</text><text x="328" y="595">Phosphorylation</text><text x="328" y="606">Motif Mutants</text><text x="328" y="616">in Cancer</text></g>
<g font-size="7"><text x="376" y="620">SMAD2/3 MH2</text><text x="376" y="628">Domain Mutants in</text><text x="376" y="636">Cancer</text></g>
<g font-size="5"><text x="132" y="620">Loss of Function</text><text x="132" y="626">of TGFBR2 in Cancer</text><text x="266" y="630">Loss of Function of</text><text x="266" y="636">SMAD4 in Cancer</text></g>
<g font-size="10"><text x="148" y="660">TGFBR2 MSI</text><text x="148" y="671">Frameshift Mutants</text><text x="148" y="682">in Cancer</text></g>
<g font-size="13"><text x="262" y="672">SMAD4 MH2</text><text x="262" y="687">Domain Mutants</text><text x="262" y="702">in Cancer</text></g>
<g font-size="11"><text x="162" y="714">TGFBR2</text><text x="162" y="726">Kinase Domain</text><text x="162" y="738">Mutants in</text><text x="162" y="750">Cancer</text></g>
</g>
</svg>
</body></html>
